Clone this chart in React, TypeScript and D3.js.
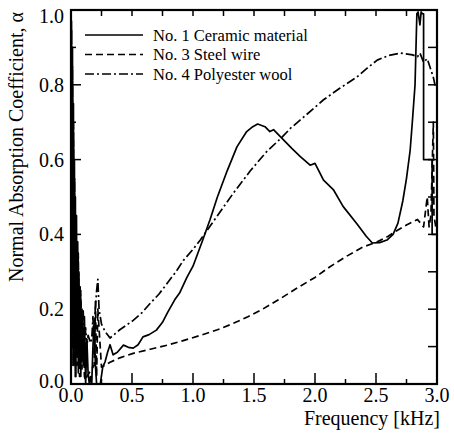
import React from 'react';
import * as d3 from 'd3';

// chart size
const width = 454;
const height = 435;
const margin = { top: 10, right: 17, bottom: 51, left: 71 };

// tick values
const xMajorTicks = [0, 0.5, 1.0, 1.5, 2.0, 2.5, 3.0];
const xMinorTicks = [0.25, 0.75, 1.25, 1.75, 2.25, 2.75];
const yMajorTicks = [0, 0.2, 0.4, 0.6, 0.8, 1.0];
const yMinorTicks = [0.1, 0.3, 0.5, 0.7, 0.9];

// No. 1 Ceramic material
const ceramicFreq = [0, 0.004, 0.008, 0.012, 0.016, 0.02, 0.024, 0.028, 0.032, 0.036, 0.04, 0.045, 0.05, 0.055, 0.06, 0.065, 0.07, 0.075, 0.08, 0.09, 0.1, 0.11, 0.12, 0.13, 0.14, 0.15, 0.16, 0.17, 0.18, 0.19, 0.2, 0.21, 0.22, 0.23, 0.24, 0.26, 0.28, 0.3, 0.32, 0.345, 0.38, 0.43, 0.47, 0.51, 0.55, 0.59, 0.64, 0.7, 0.75, 0.79, 0.85, 0.89, 0.95, 1.0, 1.08, 1.14, 1.2, 1.28, 1.36, 1.44, 1.49, 1.53, 1.59, 1.63, 1.66, 1.73, 1.81, 1.88, 1.96, 2.0, 2.07, 2.15, 2.23, 2.34, 2.42, 2.47, 2.53, 2.59, 2.64, 2.68, 2.72, 2.75, 2.78, 2.8, 2.82, 2.835, 2.845, 2.86, 2.87, 2.88, 2.89, 2.89, 2.96, 2.96, 2.99];
const ceramicAlpha = [0, 0.97, 0.3, 0.9, 0.15, 0.75, 0.05, 0.6, 0.1, 0.5, 0.02, 0.45, 0.08, 0.38, 0.03, 0.3, 0.05, 0.26, 0.02, 0.2, 0.05, 0.18, 0, 0.12, 0.03, 0, 0.02, 0, 0.1, 0.17, 0.05, 0, 0, 0, 0, 0.045, 0.06, 0.085, 0.105, 0.078, 0.085, 0.104, 0.098, 0.096, 0.105, 0.126, 0.132, 0.144, 0.165, 0.19, 0.225, 0.243, 0.285, 0.315, 0.385, 0.44, 0.5, 0.57, 0.634, 0.675, 0.688, 0.695, 0.688, 0.675, 0.68, 0.657, 0.63, 0.608, 0.585, 0.59, 0.545, 0.52, 0.475, 0.43, 0.395, 0.377, 0.378, 0.385, 0.4, 0.43, 0.49, 0.55, 0.625, 0.71, 0.8, 0.99, 0.995, 0.96, 0.995, 0.99, 0.99, 0.6, 0.6, 0.4, 0.4];

// No. 3 Steel wire
const steelFreq = [0, 0.004, 0.008, 0.012, 0.016, 0.02, 0.025, 0.03, 0.035, 0.04, 0.05, 0.06, 0.07, 0.08, 0.09, 0.1, 0.11, 0.12, 0.13, 0.15, 0.17, 0.19, 0.2, 0.21, 0.22, 0.25, 0.32, 0.4, 0.51, 0.65, 0.79, 0.92, 1.06, 1.2, 1.33, 1.45, 1.57, 1.7, 1.85, 2.0, 2.12, 2.25, 2.39, 2.51, 2.6, 2.67, 2.75, 2.84, 2.89, 2.92, 2.935, 2.95, 2.97, 2.975, 2.99];
const steelAlpha = [0, 0.9, 0.1, 0.8, 0.05, 0.65, 0.1, 0.5, 0.02, 0.42, 0.05, 0.3, 0.02, 0.22, 0.04, 0.15, 0.02, 0.01, 0.02, 0.03, 0.04, 0.05, 0.22, 0.02, 0.2, 0.045, 0.058, 0.07, 0.082, 0.093, 0.104, 0.116, 0.13, 0.145, 0.162, 0.18, 0.2, 0.225, 0.256, 0.285, 0.313, 0.34, 0.366, 0.38, 0.395, 0.41, 0.425, 0.44, 0.42, 0.5, 0.42, 0.45, 0.7, 0.45, 0.42];

// No. 4 Polyester wool
const polyFreq = [0, 0.004, 0.008, 0.012, 0.016, 0.02, 0.025, 0.03, 0.035, 0.04, 0.05, 0.06, 0.07, 0.08, 0.09, 0.1, 0.11, 0.12, 0.13, 0.14, 0.15, 0.16, 0.17, 0.18, 0.19, 0.2, 0.21, 0.22, 0.23, 0.25, 0.28, 0.32, 0.4, 0.51, 0.58, 0.65, 0.72, 0.79, 0.86, 0.92, 1.0, 1.06, 1.2, 1.33, 1.47, 1.6, 1.73, 1.8, 1.88, 2.0, 2.07, 2.2, 2.34, 2.43, 2.51, 2.6, 2.7, 2.8, 2.84, 2.86, 2.89, 2.92, 2.95, 2.97, 2.99];
const polyAlpha = [0, 0.95, 0.2, 0.85, 0.1, 0.7, 0.05, 0.55, 0.1, 0.45, 0.1, 0.35, 0.05, 0.25, 0.08, 0.2, 0.05, 0.15, 0.1, 0.13, 0.12, 0.11, 0.12, 0.18, 0.08, 0.2, 0.25, 0.28, 0.2, 0.16, 0.14, 0.123, 0.145, 0.17, 0.19, 0.216, 0.24, 0.27, 0.3, 0.33, 0.36, 0.385, 0.45, 0.51, 0.57, 0.62, 0.66, 0.684, 0.706, 0.74, 0.76, 0.79, 0.82, 0.845, 0.866, 0.878, 0.885, 0.88, 0.875, 0.885, 0.86, 0.87, 0.84, 0.82, 0.79];

const seriesNames = ['No. 1 Ceramic material', 'No. 3 Steel wire', 'No. 4 Polyester wool'];
const seriesDash = ['none', '7,4', '9,3,2,3'];

const fontStack = 'Liberation Serif, Tinos, Times New Roman, Times, DejaVu Serif, serif';

const App = () => {
  const x = d3.scaleLinear().domain([0, 3]).range([margin.left, width - margin.right]);
  const y = d3.scaleLinear().domain([0, 1]).range([height - margin.bottom, margin.top]);

  const line = d3.line<number[]>().x(d => x(d[0])).y(d => y(d[1]));
  const series = [
    d3.zip(ceramicFreq, ceramicAlpha),
    d3.zip(steelFreq, steelAlpha),
    d3.zip(polyFreq, polyAlpha),
  ];

  const x0 = margin.left;
  const x1 = width - margin.right;
  const y0 = height - margin.bottom;
  const y1 = margin.top;

  return (
    <div style={{ position: 'absolute', left: 0, top: 0, fontFamily: fontStack }}>
      <svg width={width} height={height} style={{ display: 'block', background: '#fff' }} fontFamily={fontStack}>
        <defs>
          <clipPath id="plot">
            <rect x={x0} y={y1} width={x1 - x0} height={y0 - y1} />
          </clipPath>
        </defs>

        {/* curves */}
        <g clipPath="url(#plot)" fill="none" stroke="#000" strokeWidth={1.7}>
          {series.map((s, i) => (
            <path key={i} d={line(s) || ''} strokeDasharray={seriesDash[i]} strokeLinejoin="round" />
          ))}
        </g>

        {/* ticks */}
        <g stroke="#000" strokeWidth={1.5}>
          {xMajorTicks.map(t => (
            <g key={'xM' + t}>
              <line x1={x(t)} x2={x(t)} y1={y0} y2={y0 - 11} />
              <line x1={x(t)} x2={x(t)} y1={y1} y2={y1 + 6} />
            </g>
          ))}
          {xMinorTicks.map(t => (
            <g key={'xm' + t}>
              <line x1={x(t)} x2={x(t)} y1={y0} y2={y0 - 5} />
              <line x1={x(t)} x2={x(t)} y1={y1} y2={y1 + 6} />
            </g>
          ))}
          {yMajorTicks.map(t => (
            <g key={'yM' + t}>
              <line x1={x0} x2={x0 + 10} y1={y(t)} y2={y(t)} />
              <line x1={x1} x2={x1 - 9} y1={y(t)} y2={y(t)} />
            </g>
          ))}
          {yMinorTicks.map(t => (
            <g key={'ym' + t}>
              <line x1={x0} x2={x0 + 5} y1={y(t)} y2={y(t)} />
              <line x1={x1} x2={x1 - 9} y1={y(t)} y2={y(t)} />
            </g>
          ))}
        </g>

        {/* frame */}
        <rect x={x0} y={y1} width={x1 - x0} height={y0 - y1} fill="none" stroke="#000" strokeWidth={2.2} />

        {/* tick labels */}
        <g fontSize={20} fill="#000">
          {xMajorTicks.map(t => (
            <text key={'xl' + t} x={x(t)} y={y0 + 18} textAnchor="middle">{t.toFixed(1)}</text>
          ))}
          {yMajorTicks.map(t => (
            <text key={'yl' + t} x={x0 - 7} y={Math.min(Math.max(y(t), y1 + 6), y0 - 3) + 7} textAnchor="end">{t.toFixed(1)}</text>
          ))}
        </g>

        {/* axis titles */}
        <text x={x1 + 3} y={425} textAnchor="end" fontSize={20}>Frequency [kHz]</text>
        <text transform={`translate(23,147) rotate(-90)`} textAnchor="middle" fontSize={20}>
          Normal Absorption Coefficient, α
        </text>

        {/* legend */}
        <g fontSize={16.5}>
          {seriesNames.map((name, i) => (
            <g key={name} transform={`translate(85,${35 + i * 19.5})`}>
              <line x1={0} x2={58} y1={0} y2={0} stroke="#000" strokeWidth={1.7} strokeDasharray={seriesDash[i]} />
              <text x={68} y={5.5}>{name}</text>
            </g>
          ))}
        </g>
      </svg>
    </div>
  );
};

export default App;
